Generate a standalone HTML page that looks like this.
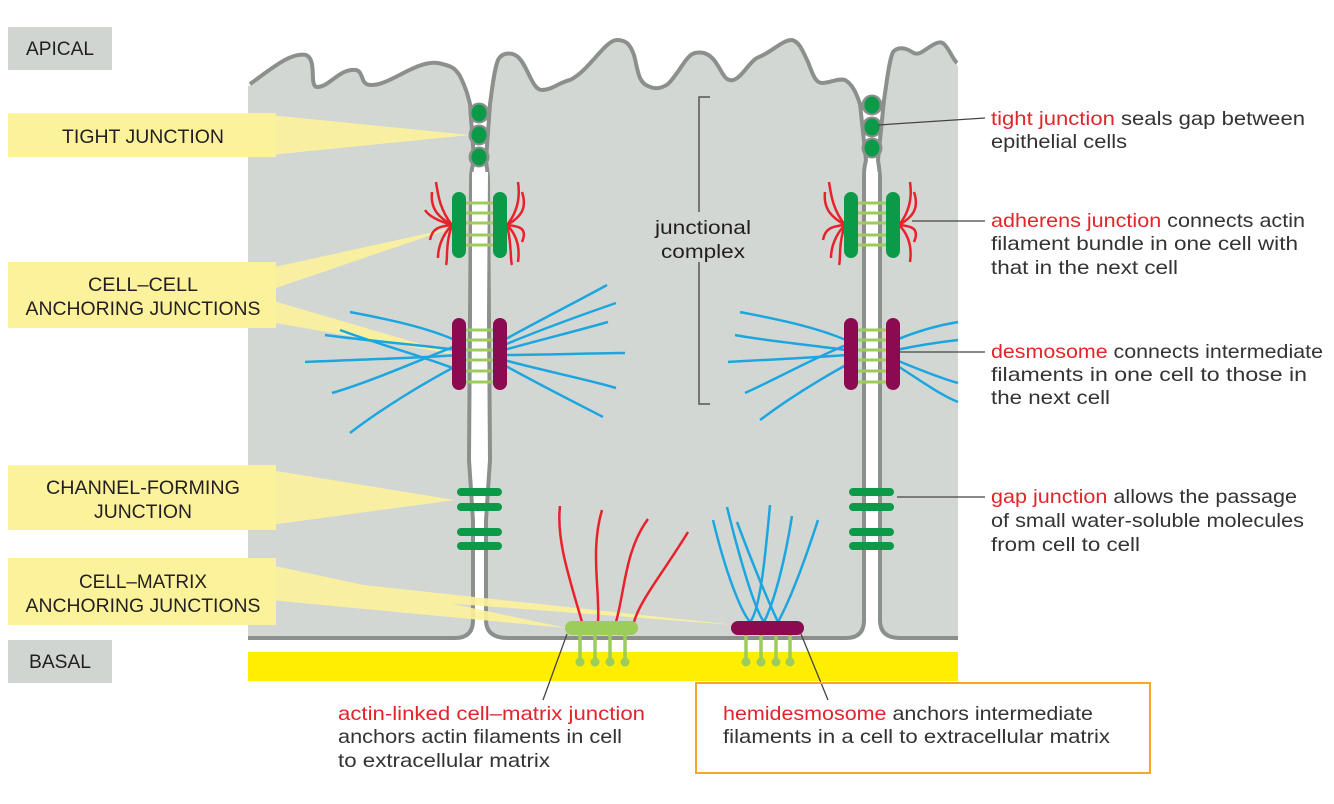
<!DOCTYPE html>
<html><head><meta charset="utf-8"><style>
html,body{margin:0;padding:0;background:#fff}
svg{display:block}
text{font-family:"Liberation Sans",sans-serif}
</style></head><body>
<svg width="1334" height="804" viewBox="0 0 1334 804" xmlns="http://www.w3.org/2000/svg">
<rect width="1334" height="804" fill="#fff"/>
<rect x="248" y="652" width="710" height="29" fill="#ffee00"/>
<g fill="#d3d7d4" stroke="#8b908d" stroke-width="4" stroke-linejoin="round">
<path d="M250,84 C270,70 290,52 306,55 C318,60 308,88 318,87 C330,86 340,68 356,70 C364,72 360,84 370,85 C390,86 415,60 438,63 C452,66 455,68 460,76 C466,88 468,96 470,104 L474,160 C472,168 471,172 471,180 L469,460 L473,520 L473,620 Q473,638 455,638 L248,638"/>
<path d="M864,620 Q864,638 846,638 L508,638 Q486,638 486,620 L486,520 L490,460 L488,180 C488,170 486,165 486,160 L490,104 C492,90 494,70 498,60 C502,52 512,52 518,57 C528,66 532,90 542,90 C552,90 560,82 570,80 C590,70 605,40 617,40 C626,40 630,44 634,55 C638,70 638,82 648,86 C656,90 662,88 668,84 C680,72 686,55 695,53 C704,51 710,55 714,60 C722,70 724,82 733,80 C742,78 750,60 759,57 C772,52 782,40 792,40 C800,42 803,52 808,62 C812,72 815,83 822,83 C830,83 838,78 845,80 C852,84 856,92 860,104 L866,160 C864,168 864,172 864,180 Z"/>
<path d="M958,638 L900,638 Q880,638 880,620 L880,180 C880,172 879,168 878,160 L884,100 C886,88 889,60 893,52 C898,46 906,48 912,52 C918,56 922,52 928,48 C934,44 940,40 944,44 C950,50 952,58 957,63"/>
</g>
<rect x="955" y="66" width="3" height="570" fill="#d3d7d4"/>
<rect x="248" y="86" width="3" height="550" fill="#d3d7d4"/>
<path d="M472,172 L488,172 L486,460 L484,520 L484,640 L475,640 L475,520 L472,460 Z" fill="#fff"/>
<path d="M868,172 L878,172 L878,640 L866,640 L866,172 Z" fill="#fff"/>
<g fill="#0a9a48" stroke="#8b908d" stroke-width="3">
<ellipse cx="479" cy="113" rx="9" ry="9"/><ellipse cx="479" cy="135" rx="9" ry="9"/><ellipse cx="479" cy="157" rx="9" ry="9"/>
<ellipse cx="872" cy="105" rx="9" ry="9"/><ellipse cx="872" cy="127" rx="9" ry="9"/><ellipse cx="872" cy="148" rx="9" ry="9"/>
</g>
<g fill="#0a9a48">
<ellipse cx="479" cy="113" rx="7.5" ry="8.5"/><ellipse cx="479" cy="135" rx="7.5" ry="8.5"/><ellipse cx="479" cy="157" rx="7.5" ry="8.5"/>
<ellipse cx="872" cy="105" rx="7.5" ry="8.5"/><ellipse cx="872" cy="127" rx="7.5" ry="8.5"/><ellipse cx="872" cy="148" rx="7.5" ry="8.5"/>
</g>
<g fill="#fdf29c" opacity="0.9">
<polygon points="270,115 470,135 270,155"/>
<polygon points="270,268 452,228 270,290"/>
<polygon points="270,300 458,355 270,322"/>
<polygon points="270,470 455,500 270,525"/>
<polygon points="270,565 566,628 270,600"/>
<polygon points="270,575 735,625 270,590"/>
</g>
<g fill="#fdf29c">
<rect x="8" y="113" width="268" height="44"/>
<rect x="8" y="262" width="268" height="66"/>
<rect x="8" y="465" width="268" height="65"/>
<rect x="8" y="558" width="268" height="67"/>
</g>
<rect x="8" y="27" width="104" height="43" fill="#d1d5d2"/>
<rect x="8" y="640" width="104" height="43" fill="#d1d5d2"/>
<g font-size="19" fill="#231f20" text-anchor="middle">
<text x="60" y="55" textLength="68" lengthAdjust="spacingAndGlyphs">APICAL</text>
<text x="60" y="668" textLength="62" lengthAdjust="spacingAndGlyphs">BASAL</text>
<text x="143" y="143" textLength="162" lengthAdjust="spacingAndGlyphs">TIGHT JUNCTION</text>
<text x="143" y="291" textLength="110" lengthAdjust="spacingAndGlyphs">CELL–CELL</text>
<text x="143" y="315" textLength="235" lengthAdjust="spacingAndGlyphs">ANCHORING JUNCTIONS</text>
<text x="143" y="494" textLength="194" lengthAdjust="spacingAndGlyphs">CHANNEL-FORMING</text>
<text x="143" y="518" textLength="98" lengthAdjust="spacingAndGlyphs">JUNCTION</text>
<text x="143" y="588" textLength="128" lengthAdjust="spacingAndGlyphs">CELL–MATRIX</text>
<text x="143" y="612" textLength="235" lengthAdjust="spacingAndGlyphs">ANCHORING JUNCTIONS</text>
</g>
<g stroke="#e8212a" stroke-width="2.5" fill="none">
<path d="M452,225 C440,210 438,195 436,182"/><path d="M452,225 C440,218 430,210 432,192"/><path d="M452,225 C440,226 432,228 430,240"/><path d="M452,225 C442,235 438,248 438,258"/><path d="M452,225 C445,245 448,260 446,265"/><path d="M452,225 C435,220 428,215 425,210"/>
<path d="M507,225 C519,210 520,195 518,182"/><path d="M507,225 C519,218 528,210 522,192"/><path d="M507,225 C519,226 528,228 522,242"/><path d="M507,225 C517,235 520,248 518,262"/><path d="M507,225 C512,245 510,260 512,265"/>
<path d="M845,225 C833,210 831,195 829,182"/><path d="M845,225 C833,218 823,210 825,192"/><path d="M845,225 C833,226 825,228 823,240"/><path d="M845,225 C835,235 831,248 831,258"/><path d="M845,225 C838,245 841,260 839,265"/>
<path d="M899,225 C911,210 912,195 910,182"/><path d="M899,225 C911,218 920,210 914,192"/><path d="M899,225 C911,226 920,228 914,242"/><path d="M899,225 C909,235 912,248 910,262"/>
</g>
<g stroke="#9ccc5a" stroke-width="3">
<path d="M466,203H493M466,213H493M466,223H493M466,235H493M466,245H493"/>
<path d="M857,203H886M857,213H886M857,223H886M857,235H886M857,245H886"/>
<path d="M466,330H493M466,340H493M466,350H493M466,360H493M466,371H493M466,382H493"/>
<path d="M857,330H886M857,340H886M857,350H886M857,360H886M857,371H886M857,382H886"/>
</g>
<g fill="#0a9a48">
<rect x="452" y="192" width="14" height="66" rx="7"/><rect x="493" y="192" width="14" height="66" rx="7"/>
<rect x="844" y="192" width="14" height="66" rx="7"/><rect x="886" y="192" width="14" height="66" rx="7"/>
</g>
<g stroke="#1ca6e0" stroke-width="2.5" fill="none">
<path d="M455,340 C420,325 380,318 350,312"/><path d="M458,350 C420,345 360,340 325,335"/><path d="M458,355 C420,358 350,360 305,362"/><path d="M458,345 C420,360 370,382 332,393"/><path d="M458,365 C420,385 380,410 350,433"/><path d="M458,370 C420,355 380,345 340,330"/>
<path d="M504,340 C540,320 580,300 607,285"/><path d="M504,345 C540,330 590,312 616,303"/><path d="M504,350 C540,340 580,330 608,322"/><path d="M504,355 C540,355 600,353 625,353"/><path d="M504,360 C540,370 590,380 616,388"/><path d="M504,365 C540,385 580,405 603,417"/>
<path d="M846,340 C810,325 770,318 740,312"/><path d="M846,350 C810,345 760,340 735,335"/><path d="M846,355 C810,358 760,360 728,362"/><path d="M846,345 C810,360 770,382 745,393"/><path d="M846,365 C810,385 780,405 760,420"/>
<path d="M896,340 C920,330 940,325 958,322"/><path d="M896,350 C920,345 940,342 958,340"/><path d="M896,360 C920,370 940,378 958,383"/><path d="M896,365 C920,380 940,395 958,402"/>
</g>
<g fill="#8b0a50">
<rect x="452" y="318" width="14" height="72" rx="7"/><rect x="493" y="318" width="14" height="72" rx="7"/>
<rect x="844" y="318" width="14" height="72" rx="7"/><rect x="886" y="318" width="14" height="72" rx="7"/>
</g>
<g stroke="#0a9a48" stroke-width="8" stroke-linecap="round">
<path d="M461,492H498M461,507H498M461,532H498M461,546H498"/>
<path d="M853,492H890M853,507H890M853,532H890M853,546H890"/>
</g>
<g stroke="#e8212a" stroke-width="2.5" fill="none">
<path d="M560,506 C556,540 570,580 582,622"/><path d="M602,510 C590,550 600,590 598,622"/><path d="M648,519 C625,550 625,590 616,622"/><path d="M688,532 C665,570 640,600 634,622"/>
</g>
<g stroke="#9ccc5a" stroke-width="3.5"><path d="M580,630V662M595,630V662M610,630V662M625,630V662M746,630V662M761,630V662M776,630V662M790,630V662"/></g>
<g fill="#9ccc5a"><circle cx="580" cy="662" r="4.5"/><circle cx="595" cy="662" r="4.5"/><circle cx="610" cy="662" r="4.5"/><circle cx="625" cy="662" r="4.5"/><circle cx="746" cy="662" r="4.5"/><circle cx="761" cy="662" r="4.5"/><circle cx="776" cy="662" r="4.5"/><circle cx="790" cy="662" r="4.5"/></g>
<rect x="565" y="621" width="73" height="14" rx="7" fill="#9ccc5a"/>
<g stroke="#1ca6e0" stroke-width="2.5" fill="none">
<path d="M713,520 C725,570 740,610 750,622 C760,610 765,560 770,505"/>
<path d="M727,507 C740,560 755,610 764,622 C775,600 785,560 792,516"/>
<path d="M737,522 C755,570 770,605 778,622 C790,600 805,560 818,520"/>
</g>
<rect x="731" y="621" width="73" height="14" rx="7" fill="#8b0a50"/>
<path d="M710,97H699V212M699,262V404H710" stroke="#555" stroke-width="1.5" fill="none"/>
<g font-size="19" fill="#231f20" text-anchor="middle">
<text x="703" y="234" textLength="96" lengthAdjust="spacingAndGlyphs">junctional</text>
<text x="703" y="258" textLength="84" lengthAdjust="spacingAndGlyphs">complex</text>
</g>
<g stroke="#444" stroke-width="1.3" fill="none">
<path d="M878,125L985,118"/><path d="M912,221H985"/><path d="M900,352H985"/><path d="M897,497H985"/>
<path d="M567,634L543,700"/><path d="M801,634L828,700"/>
</g>
<rect x="696" y="683" width="454" height="90" fill="none" stroke="#f5a623" stroke-width="2"/>
<g font-size="19.5" fill="#333">
<text x="991" y="125" textLength="314" lengthAdjust="spacingAndGlyphs"><tspan fill="#e3242b">tight junction</tspan> seals gap between</text>
<text x="991" y="148" textLength="136" lengthAdjust="spacingAndGlyphs">epithelial cells</text>
<text x="991" y="227" textLength="314" lengthAdjust="spacingAndGlyphs"><tspan fill="#e3242b">adherens junction</tspan> connects actin</text>
<text x="991" y="250" textLength="307" lengthAdjust="spacingAndGlyphs">filament bundle in one cell with</text>
<text x="991" y="274" textLength="187" lengthAdjust="spacingAndGlyphs">that in the next cell</text>
<text x="991" y="358" textLength="332" lengthAdjust="spacingAndGlyphs"><tspan fill="#e3242b">desmosome</tspan> connects intermediate</text>
<text x="991" y="381" textLength="316" lengthAdjust="spacingAndGlyphs">filaments in one cell to those in</text>
<text x="991" y="404" textLength="119" lengthAdjust="spacingAndGlyphs">the next cell</text>
<text x="991" y="503" textLength="306" lengthAdjust="spacingAndGlyphs"><tspan fill="#e3242b">gap junction</tspan> allows the passage</text>
<text x="991" y="527" textLength="313" lengthAdjust="spacingAndGlyphs">of small water-soluble molecules</text>
<text x="991" y="551" textLength="149" lengthAdjust="spacingAndGlyphs">from cell to cell</text>
<text x="338" y="720" textLength="307" lengthAdjust="spacingAndGlyphs" fill="#e3242b">actin-linked cell–matrix junction</text>
<text x="338" y="743" textLength="284" lengthAdjust="spacingAndGlyphs">anchors actin filaments in cell</text>
<text x="338" y="767" textLength="212" lengthAdjust="spacingAndGlyphs">to extracellular matrix</text>
<text x="723" y="720" textLength="370" lengthAdjust="spacingAndGlyphs"><tspan fill="#e3242b">hemidesmosome</tspan> anchors intermediate</text>
<text x="723" y="743" textLength="387" lengthAdjust="spacingAndGlyphs">filaments in a cell to extracellular matrix</text>
</g>
</svg>
</body></html>
